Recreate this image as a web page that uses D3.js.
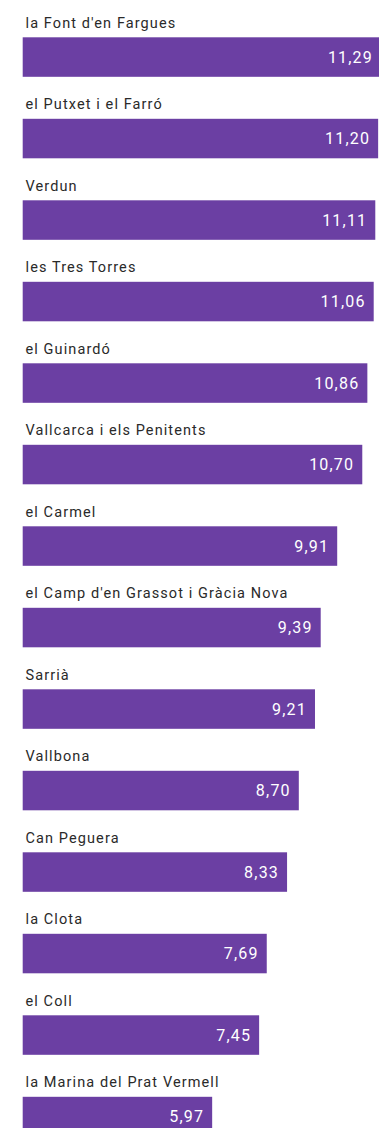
<!DOCTYPE html>
<html>
<head>
<meta charset="utf-8">
<script src="https://cdn.jsdelivr.net/npm/d3@7"></script>
<style>
  html, body { margin: 0; padding: 0; background: #fff; overflow: hidden; }
  svg { display: block; }
</style>
</head>
<body>
<div id="chart"></div>
<script>
// Neighbourhoods and their values
const neighbourhoods = [
  "la Font d'en Fargues",
  "el Putxet i el Farró",
  "Verdun",
  "les Tres Torres",
  "el Guinardó",
  "Vallcarca i els Penitents",
  "el Carmel",
  "el Camp d'en Grassot i Gràcia Nova",
  "Sarrià",
  "Vallbona",
  "Can Peguera",
  "la Clota",
  "el Coll",
  "la Marina del Prat Vermell"
];
const values = [11.29, 11.20, 11.11, 11.06, 10.86, 10.70, 9.91, 9.39, 9.21, 8.70, 8.33, 7.69, 7.45, 5.97];

const width = 379, height = 1128;
const rowStep = 81.5;
const barOffset = 37.3, barHeight = 39.5;
const barColor = "#6b3fa3";

const fmt = v => d3.format(".2f")(v).replace(".", ",");

const svg = d3.select("#chart").append("svg")
  .attr("width", width)
  .attr("height", height);

const x = d3.scaleLinear()
  .domain([0, d3.max(values)])
  .range([22.7, 381]);

const y = d3.scaleBand()
  .domain(neighbourhoods)
  .range([0, rowStep * neighbourhoods.length])
  .paddingInner(0)
  .paddingOuter(0);

const data = neighbourhoods.map((name, i) => ({ name, value: values[i] }));

const rows = svg.selectAll("g.row")
  .data(data)
  .join("g")
  .attr("class", "row")
  .attr("transform", d => `translate(0,${y(d.name)})`);

// Neighbourhood name above each bar
rows.append("text")
  .attr("x", 25.5)
  .attr("y", 27.8)
  .attr("fill", "#2a2a2a")
  .style("font-family", "Roboto, 'Noto Sans', sans-serif")
  .style("font-size", "14.5px")
  .style("letter-spacing", "1.1px")
  .text(d => d.name);

rows.append("rect")
  .attr("x", x(0))
  .attr("y", barOffset)
  .attr("width", d => x(d.value) - x(0))
  .attr("height", barHeight)
  .attr("fill", barColor);

// Value inside the bar end
rows.append("text")
  .attr("x", d => x(d.value) - 8)
  .attr("y", barOffset + barHeight / 2)
  .attr("dy", "0.36em")
  .attr("text-anchor", "end")
  .attr("fill", "#fff")
  .style("font-family", "Roboto, 'Noto Sans', sans-serif")
  .style("font-size", "16px")
  .style("letter-spacing", "1.2px")
  .text(d => fmt(d.value));
</script>
</body>
</html>
